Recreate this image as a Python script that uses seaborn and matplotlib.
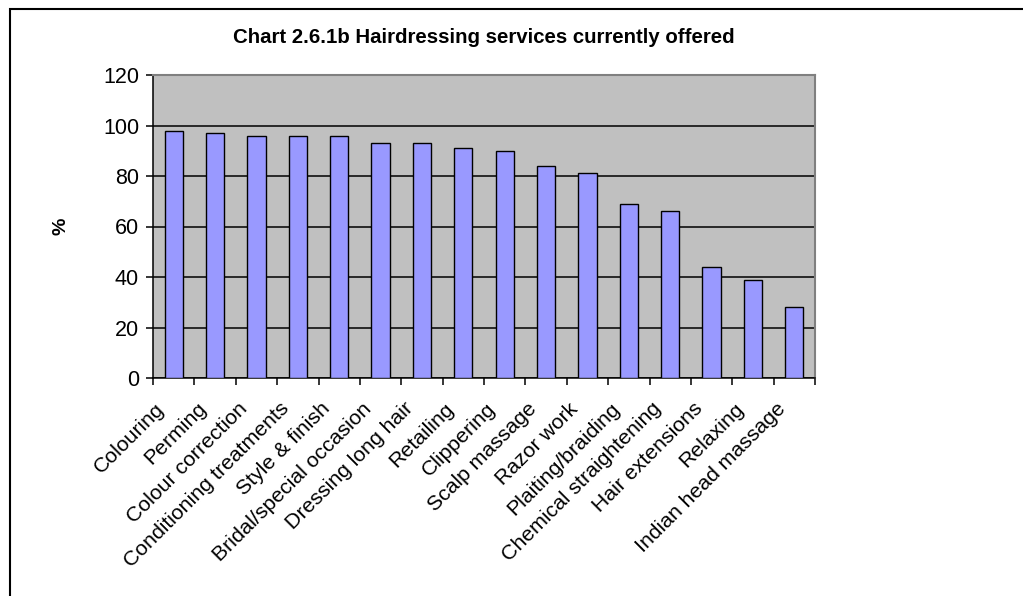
import matplotlib
matplotlib.use("Agg")
import matplotlib.pyplot as plt
import seaborn as sns
import pandas as pd
from matplotlib.patches import Rectangle
from matplotlib.transforms import ScaledTranslation

services = [
    "Colouring", "Perming", "Colour correction", "Conditioning treatments",
    "Style & finish", "Bridal/special occasion", "Dressing long hair",
    "Retailing", "Clippering", "Scalp massage", "Razor work",
    "Plaiting/braiding", "Chemical straightening", "Hair extensions",
    "Relaxing", "Indian head massage",
]
percent = [98, 97, 96, 96, 96, 93, 93, 91, 90, 84, 81, 69, 66, 44, 39, 28]
y_ticks = [0, 20, 40, 60, 80, 100, 120]

sns.set_theme(style="white")
plt.rcParams["font.family"] = ["Liberation Sans", "DejaVu Sans"]

W, H = 1023, 596
fig = plt.figure(figsize=(W / 100, H / 100), dpi=100)
ax = fig.add_axes([153 / W, 1 - 378 / H, (815 - 153) / W, (378 - 75) / H])

df = pd.DataFrame({"service": services, "percent": percent})
sns.barplot(data=df, x="service", y="percent", ax=ax, color="#9999FF",
            saturation=1, width=0.44, edgecolor="black", linewidth=1.0,
            zorder=3)

ax.set_facecolor("#C0C0C0")
ax.set_ylim(0, 120)
ax.set_xlim(-0.5, len(services) - 0.5)
ax.set_yticks(y_ticks)
ax.yaxis.grid(True, color="black", linewidth=1.1, zorder=1)
ax.set_axisbelow(True)

for side in ("left", "bottom"):
    ax.spines[side].set_color("black")
    ax.spines[side].set_linewidth(1.1)
for side in ("top", "right"):
    ax.spines[side].set_color("#808080")
    ax.spines[side].set_linewidth(1.5)

ax.tick_params(axis="y", left=True, direction="out", length=5, width=1.1,
               color="black", labelsize=15.5, pad=5, labelcolor="black")
# category boundaries carry the x ticks; labels sit under the bar centres
ax.set_xticks([i - 0.5 for i in range(len(services) + 1)], minor=False)
ax.set_xticklabels([])
ax.tick_params(axis="x", bottom=True, direction="out", length=5, width=1.1,
               color="black")
ax.set_xticks(range(len(services)), minor=True)
ax.set_xticklabels(services, minor=True, rotation=45, ha="right",
                   va="center", rotation_mode="anchor", fontsize=15.3,
                   color="black")
ax.tick_params(axis="x", which="minor", length=0, pad=20)
shift = ScaledTranslation(-12 / 100, 0, fig.dpi_scale_trans)
for lbl in ax.get_xticklabels(minor=True):
    lbl.set_transform(lbl.get_transform() + shift)

ax.set_xlabel("")
ax.set_ylabel("%", fontsize=14, fontweight="bold", labelpad=24,
              color="black")

fig.text(484 / W, 1 - 43 / H, "Chart 2.6.1b Hairdressing services currently offered",
         ha="center", va="baseline", fontsize=14.7, fontweight="bold",
         color="black")

# chart frame
fig.patches.append(Rectangle((10 / W, -0.05), 1.1, 1 - 9 / H + 0.05,
                             transform=fig.transFigure, fill=False,
                             edgecolor="black", linewidth=1.5))

fig.savefig("out.png", dpi=100, facecolor="white")
